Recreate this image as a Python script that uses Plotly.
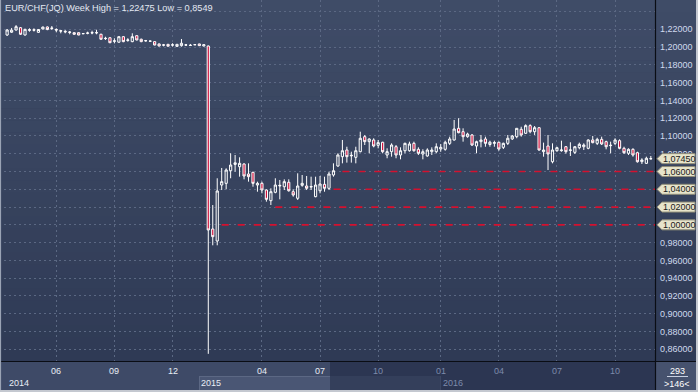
import plotly.graph_objects as go

# ---------------- data (weekly bars, EUR/CHF) ----------------
opens = [1.2136, 1.2167, 1.2192, 1.2218, 1.2136, 1.2188, 1.2195, 1.2166, 1.2203, 1.2226,
         1.2215, 1.2198, 1.2185, 1.2178, 1.2170, 1.2162, 1.2162, 1.2150, 1.2155, 1.2158,
         1.2160, 1.2144, 1.2095, 1.2105, 1.2065, 1.2055, 1.2117, 1.2075, 1.2061, 1.2128,
         1.2088, 1.2070, 1.2068, 1.2061, 1.2035, 1.2025, 1.2031, 1.2022, 1.2008, 1.2016,
         1.2022, 1.2018, 1.2028, 1.2035, 1.2012, 1.2012, 0.9953, 0.9818, 1.0448, 1.0467,
         1.0609, 1.0680, 1.0654, 1.0685, 1.0572, 1.0591, 1.0448, 1.0467, 1.0392, 1.0272,
         1.0366, 1.0437, 1.0429, 1.0479, 1.0373, 1.0299, 1.0445, 1.0437, 1.0425, 1.0317,
         1.0384, 1.0456, 1.0411, 1.0561, 1.0662, 1.0767, 1.0842, 1.0776, 1.0760, 1.0823,
         1.0992, 1.0936, 1.0955, 1.0895, 1.0929, 1.0786, 1.0823, 1.0879, 1.0786, 1.0834,
         1.0834, 1.0917, 1.0850, 1.0797, 1.0775, 1.0823, 1.0823, 1.0853, 1.0850, 1.0917,
         1.0955, 1.1086, 1.1048, 1.0992, 1.1011, 1.0887, 1.0936, 1.0966, 1.0904, 1.0917,
         1.0929, 1.0872, 1.0917, 1.0967, 1.0992, 1.1075, 1.1030, 1.1116, 1.1048, 1.1093,
         1.0823, 1.0887, 1.0710, 1.0834, 1.0834, 1.0879, 1.0838, 1.0816, 1.0868, 1.0879,
         1.0861, 1.0955, 1.0917, 1.0962, 1.0936, 1.0891, 1.0917, 1.0947, 1.0861, 1.0805,
         1.0850, 1.0812, 1.0711, 1.0692, 1.0742]
highs = [1.2203, 1.2215, 1.2247, 1.2226, 1.2205, 1.2211, 1.2211, 1.2203, 1.2230, 1.2232,
         1.2237, 1.2211, 1.2192, 1.2190, 1.2181, 1.2165, 1.2166, 1.2158, 1.2173, 1.2184,
         1.2195, 1.2150, 1.2116, 1.2108, 1.2099, 1.2120, 1.2122, 1.2100, 1.2155, 1.2133,
         1.2095, 1.2080, 1.2072, 1.2065, 1.2040, 1.2035, 1.2035, 1.2043, 1.2035, 1.2091,
         1.2035, 1.2035, 1.2031, 1.2037, 1.2030, 1.2017, 1.0223, 1.0524, 1.0640, 1.0636,
         1.0805, 1.0786, 1.0760, 1.0692, 1.0692, 1.0597, 1.0486, 1.0486, 1.0400, 1.0411,
         1.0524, 1.0505, 1.0512, 1.0512, 1.0400, 1.0580, 1.0561, 1.0550, 1.0542, 1.0542,
         1.0550, 1.0542, 1.0598, 1.0692, 1.0805, 1.0955, 1.0879, 1.0823, 1.0879, 1.1048,
         1.1011, 1.0974, 1.0974, 1.0955, 1.0935, 1.0861, 1.0917, 1.0898, 1.0872, 1.0925,
         1.0936, 1.0936, 1.0872, 1.0850, 1.0861, 1.0872, 1.0917, 1.0910, 1.0947, 1.0992,
         1.1180, 1.1200, 1.1086, 1.1037, 1.1022, 1.0947, 1.1011, 1.0992, 1.0947, 1.0947,
         1.0936, 1.0925, 1.1011, 1.1011, 1.1086, 1.1104, 1.1131, 1.1131, 1.1112, 1.1097,
         1.0925, 1.1011, 1.0917, 1.0879, 1.0947, 1.0887, 1.0929, 1.0887, 1.0925, 1.0917,
         1.0962, 1.1000, 1.0980, 1.0992, 1.0947, 1.0936, 1.0974, 1.0962, 1.0879, 1.0861,
         1.0861, 1.0823, 1.0749, 1.0767, 1.0775]
lows = [1.2125, 1.2160, 1.2185, 1.2136, 1.2130, 1.2173, 1.2175, 1.2160, 1.2200, 1.2190,
        1.2192, 1.2166, 1.2155, 1.2155, 1.2144, 1.2140, 1.2133, 1.2145, 1.2144, 1.2144,
        1.2144, 1.2082, 1.2080, 1.2045, 1.2042, 1.2050, 1.2055, 1.2060, 1.2055, 1.2075,
        1.2055, 1.2061, 1.2062, 1.2020, 1.2008, 1.2008, 1.2006, 1.2006, 1.2005, 1.2005,
        1.2012, 1.2016, 1.2024, 1.2014, 1.2008, 0.8549, 0.9770, 0.9770, 1.0392, 1.0400,
        1.0524, 1.0598, 1.0542, 1.0512, 1.0486, 1.0429, 1.0373, 1.0355, 1.0261, 1.0223,
        1.0355, 1.0287, 1.0392, 1.0373, 1.0317, 1.0280, 1.0429, 1.0392, 1.0392, 1.0310,
        1.0355, 1.0373, 1.0392, 1.0542, 1.0654, 1.0692, 1.0700, 1.0700, 1.0692, 1.0816,
        1.0898, 1.0805, 1.0872, 1.0861, 1.0805, 1.0749, 1.0767, 1.0749, 1.0737, 1.0805,
        1.0823, 1.0823, 1.0786, 1.0737, 1.0767, 1.0786, 1.0805, 1.0823, 1.0834, 1.0898,
        1.0947, 1.1030, 1.0936, 1.0980, 1.0887, 1.0805, 1.0872, 1.0879, 1.0879, 1.0879,
        1.0834, 1.0853, 1.0898, 1.0955, 1.0974, 1.0992, 1.1022, 1.1030, 1.1011, 1.0834,
        1.0767, 1.0617, 1.0692, 1.0823, 1.0823, 1.0801, 1.0775, 1.0797, 1.0850, 1.0842,
        1.0850, 1.0917, 1.0898, 1.0898, 1.0850, 1.0805, 1.0898, 1.0850, 1.0797, 1.0786,
        1.0767, 1.0700, 1.0685, 1.0685, 1.0735]
closes = [1.2192, 1.2190, 1.2229, 1.2144, 1.2200, 1.2195, 1.2190, 1.2198, 1.2225, 1.2197,
          1.2210, 1.2192, 1.2180, 1.2172, 1.2166, 1.2144, 1.2136, 1.2152, 1.2158, 1.2162,
          1.2162, 1.2088, 1.2098, 1.2049, 1.2070, 1.2117, 1.2061, 1.2080, 1.2117, 1.2080,
          1.2061, 1.2072, 1.2066, 1.2023, 1.2012, 1.2022, 1.2010, 1.2025, 1.2031, 1.2043,
          1.2025, 1.2020, 1.2026, 1.2016, 1.2027, 0.9942, 0.9867, 1.0381, 1.0486, 1.0617,
          1.0673, 1.0698, 1.0692, 1.0550, 1.0542, 1.0467, 1.0467, 1.0392, 1.0287, 1.0373,
          1.0448, 1.0444, 1.0486, 1.0384, 1.0336, 1.0437, 1.0467, 1.0411, 1.0431, 1.0448,
          1.0460, 1.0411, 1.0572, 1.0609, 1.0786, 1.0834, 1.0767, 1.0782, 1.0834, 1.0974,
          1.0936, 1.0966, 1.0887, 1.0925, 1.0823, 1.0823, 1.0898, 1.0786, 1.0834, 1.0917,
          1.0910, 1.0834, 1.0805, 1.0823, 1.0842, 1.0842, 1.0879, 1.0872, 1.0929, 1.0966,
          1.1078, 1.1037, 1.0992, 1.1022, 1.0898, 1.0936, 1.0955, 1.0917, 1.0930, 1.0925,
          1.0853, 1.0917, 1.0974, 1.1000, 1.1086, 1.1011, 1.1116, 1.1048, 1.1093, 1.0842,
          1.0842, 1.0797, 1.0842, 1.0868, 1.0842, 1.0823, 1.0842, 1.0879, 1.0906, 1.0898,
          1.0955, 1.0925, 1.0962, 1.0910, 1.0879, 1.0895, 1.0955, 1.0861, 1.0812, 1.0850,
          1.0786, 1.0710, 1.0730, 1.0749, 1.0745]
bars = list(range(len(opens)))

month_tick_bars = [11, 24, 37, 57, 70, 83, 97, 110, 123, 136]
month_tick_text = ["06", "09", "12", "04", "07", "10", "01", "04", "07", "10"]
year_text = ["2014", "2015", "2016"]
year_bars = [0, 43, 97]

price_ticks = [0.86, 0.88, 0.90, 0.92, 0.94, 0.96, 0.98, 1.00, 1.02, 1.04, 1.06, 1.08,
               1.10, 1.12, 1.14, 1.16, 1.18, 1.20, 1.22, 1.24]
level_prices = [1.06, 1.04, 1.02, 1.00]
level_start_bars = [75, 73, 60, 48]
last_price = 1.0745
title_text = "EUR/CHF(JQ) Week High = 1,22475 Low = 0,8549"
count_total = "293"
count_visible = ">146<"

# ---------------- layout geometry ----------------
W, H = 698, 392
ML, MR, MT, MB = 4, 43, 0, 31
PW, PH = W - ML - MR, H - MT - MB
Y0, Y1 = 0.84684, 1.25296
X0, X1 = -0.70, 144.93
FONT = "Liberation Sans, Arial"


def fx(px):
    return (px - ML) / PW


def fy(py):
    return (H - MB - py) / PH


def fyp(price):
    return (price - Y0) / (Y1 - Y0)


def fmt(v):
    return f"{v:.5f}".replace(".", ",")


hidden = set(level_prices + [1.24])
tick_text = ["" if any(abs(v - h) < 1e-9 for h in hidden) else fmt(v) for v in price_ticks]

fig = go.Figure()

# red level lines
for lvl, sb in zip(level_prices, level_start_bars):
    fig.add_trace(go.Scatter(x=[sb, X1], y=[lvl, lvl], mode="lines",
                             line=dict(color="#d3112f", width=1.6, dash="7px,9px"),
                             hoverinfo="skip", showlegend=False))

fig.add_trace(go.Candlestick(
    x=bars, open=opens, high=highs, low=lows, close=closes,
    increasing=dict(line=dict(color="#ffffff", width=1), fillcolor="rgba(0,0,0,0)"),
    decreasing=dict(line=dict(color="#ffffff", width=1), fillcolor="#d0103c"),
    whiskerwidth=0, showlegend=False, hoverinfo="skip"))

shapes = []
# background gradient (plot + right axis panel)
top_c = (63, 76, 103)
bot_c = (47, 58, 85)
N = 30
for k in range(N):
    t = (k + 0.5) / N
    c = tuple(int(round(top_c[j] + (bot_c[j] - top_c[j]) * t)) for j in range(3))
    y_a = k * 361 / N
    y_b = (k + 1) * 361 / N + 0.5
    shapes.append(dict(type="rect", xref="paper", yref="paper", layer="below",
                       x0=fx(0), x1=fx(W), y0=fy(y_b), y1=fy(y_a),
                       fillcolor="rgb(%d,%d,%d)" % c, line=dict(width=0)))


def rect(x0, x1, y0, y1, color, layer="above"):
    shapes.append(dict(type="rect", xref="paper", yref="paper", layer=layer,
                       x0=fx(x0), x1=fx(x1), y0=fy(y1), y1=fy(y0),
                       fillcolor=color, line=dict(width=0)))


def hline(x0, x1, y, color, width=1):
    shapes.append(dict(type="line", xref="paper", yref="paper", layer="above",
                       x0=fx(x0), x1=fx(x1), y0=fy(y), y1=fy(y),
                       line=dict(color=color, width=width)))


def vline(x, y0, y1, color, width=1):
    shapes.append(dict(type="line", xref="paper", yref="paper", layer="above",
                       x0=fx(x), x1=fx(x), y0=fy(y0), y1=fy(y1),
                       line=dict(color=color, width=width)))


# bottom axis band
rect(0, W, 361, H, "#2c3652")
rect(0, 330, 362, 376, "#3e4a67")
rect(0, 199, 376, 390, "#3e4a67")
rect(199, 330, 376, 390, "#4a5674")
rect(330, 440, 376, 390, "#343f5b")
hline(199, 330, 376.5, "#5c6884")
vline(199.5, 376, 390, "#5c6884")
vline(440.5, 376, 390, "#3c4763")
# bottom right counter box
rect(656, 697, 362, 390, "#46526e")
hline(667, 688, 376.5, "#c8d0e0")
# black separators
hline(0, W, 361.5, "#0a0d14", 1.2)
vline(655.5, 0, H, "#0a0d14", 1.2)
# outer light frame
vline(0.5, 0, H, "#9aa3b4", 1.2)
vline(W - 1, 0, H, "#c4c8d0", 2)
hline(0, W, H - 1, "#c4c8d0", 2)

# price tags on the right axis
tag_prices = [last_price] + level_prices
hh = 5 / PH
for p in tag_prices:
    yc = fyp(p)
    path = "M {a},{yc} L {b},{yt} L {c},{yt} L {c},{yb} L {b},{yb} Z".format(
        a=fx(657), b=fx(662), c=fx(695), yc=yc, yt=yc + hh, yb=yc - hh)
    shapes.append(dict(type="path", xref="paper", yref="paper", layer="above", path=path,
                       fillcolor="#e7e4cb", line=dict(color="#8f8c78", width=1)))

annotations = []
for p in tag_prices:
    annotations.append(dict(xref="paper", yref="paper", x=fx(679), y=fyp(p), text=fmt(p),
                            showarrow=False, xanchor="center", yanchor="middle",
                            font=dict(family=FONT, size=9, color="#1a1a1a")))

annotations.append(dict(xref="paper", yref="paper", x=fx(3), y=fy(8), text=title_text,
                        showarrow=False, xanchor="left", yanchor="middle",
                        font=dict(family=FONT, size=9.2, color="#e4e9f2")))

split_bar = 72
for b, t in zip(month_tick_bars, month_tick_text):
    annotations.append(dict(xref="x", yref="paper", x=b, y=fy(371), text=t, showarrow=False,
                            xanchor="center", yanchor="middle",
                            font=dict(family=FONT, size=9,
                                      color="#e8edf5" if b < split_bar else "#7d8bab")))
for b, t in zip(year_bars, year_text):
    annotations.append(dict(xref="x", yref="paper", x=b, y=fy(382.5), text=t, showarrow=False,
                            xanchor="left", yanchor="middle",
                            font=dict(family=FONT, size=9,
                                      color="#e8edf5" if b < split_bar else "#7d8bab")))

annotations.append(dict(xref="paper", yref="paper", x=fx(677), y=fy(370.5), text=count_total,
                        showarrow=False, xanchor="center", yanchor="middle",
                        font=dict(family=FONT, size=9, color="#ffffff")))
annotations.append(dict(xref="paper", yref="paper", x=fx(677), y=fy(383.5), text=count_visible,
                        showarrow=False, xanchor="center", yanchor="middle",
                        font=dict(family=FONT, size=9, color="#ffffff")))

fig.update_layout(
    width=W, height=H,
    margin=dict(l=ML, r=MR, t=MT, b=MB, autoexpand=False),
    paper_bgcolor="#2c3652", plot_bgcolor="rgba(0,0,0,0)",
    shapes=shapes, annotations=annotations,
    xaxis=dict(range=[X0, X1], tickvals=month_tick_bars, showticklabels=False,
               showgrid=True, gridcolor="#5b6883", griddash="2px,3px", gridwidth=1,
               zeroline=False, showline=False, ticks="", rangeslider=dict(visible=False),
               fixedrange=True),
    yaxis=dict(range=[Y0, Y1], side="right", tickvals=price_ticks, ticktext=tick_text,
               showgrid=True, gridcolor="#5b6883", griddash="2px,3px", gridwidth=1,
               zeroline=False, showline=False, ticks="", ticklabelstandoff=4,
               tickfont=dict(family=FONT, size=9, color="#cfdaee"),
               fixedrange=True),
    showlegend=False,
)

fig.write_html("out.html",
               config={"displayModeBar": False, "staticPlot": True},
               post_script="document.body.style.margin='0';document.body.style.padding='0';"
                           "document.body.style.overflow='hidden';")
